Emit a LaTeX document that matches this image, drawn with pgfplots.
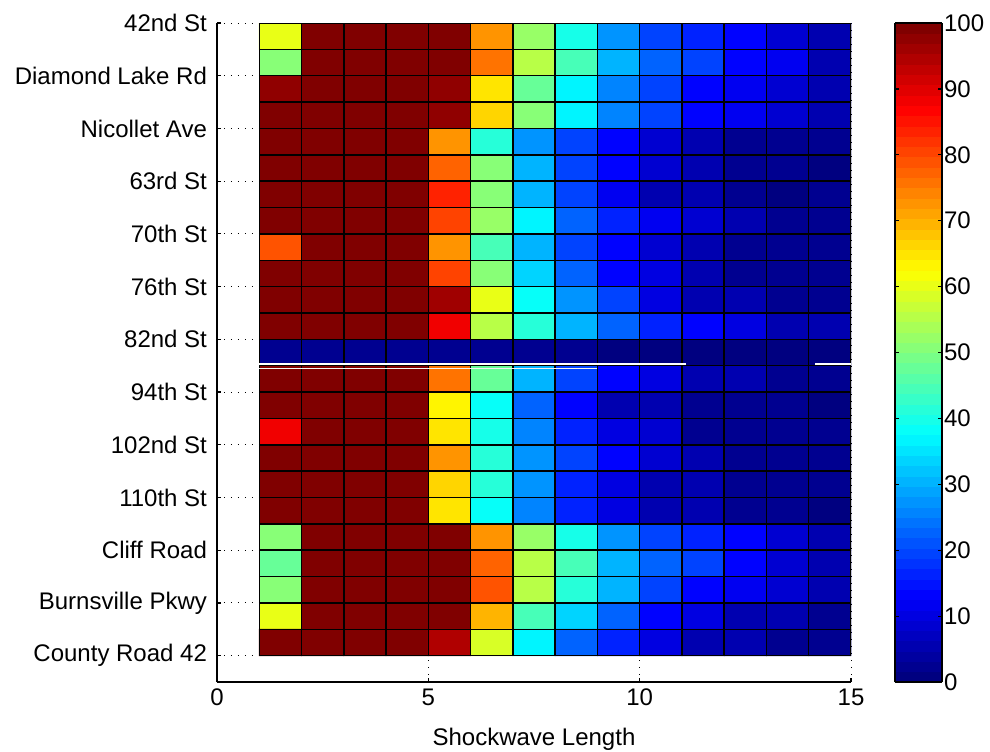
\documentclass[border=0pt]{standalone}
\usepackage{fontspec}
\setmainfont{Liberation Sans}
\usepackage{pgfplots}
\pgfplotsset{compat=1.18}
\pgfplotsset{colormap/jet}
\pgfplotsset{colormap={jetsf}{samples of colormap=(64 of jet)}}
\begin{document}
\begin{tikzpicture}
\useasboundingbox (-108.5pt,-34.5pt) rectangle (386.5pt,341pt);
\begin{axis}[
  at={(0pt,0pt)}, anchor=south west,
  scale only axis, width=317pt, height=329.5pt,
  xmin=0, xmax=15, ymin=1, ymax=26,
  y dir=reverse,
  axis x line*=bottom, axis y line*=left,
  axis line style={black, line width=0.6pt},
  xtick={0,5,10,15},
  ytick={1,3,...,25},
  yticklabels={42nd St, Diamond Lake Rd, Nicollet Ave, 63rd St, 70th St, 76th St, 82nd St, 94th St, 102nd St, 110th St, Cliff Road, Burnsville Pkwy, County Road 42},
  tick align=inside, major tick length=2pt,
  tick style={black, line width=0.6pt},
  grid=major, grid style={black, line width=0.5pt, dash pattern=on 0.6pt off 2.9pt},
  tick label style={font=\fontsize{12}{14}\selectfont},
  yticklabel style={xshift=-1.5pt},
  label style={font=\fontsize{12}{14}\selectfont},
  /pgf/number format/assume math mode=true,
  xlabel={Shockwave Length},
  xlabel style={yshift=-4pt},
  colormap name=jetsf,
  colormap access=piecewise constant,
  point meta min=0, point meta max=100,
  colorbar sampled,
  colorbar style={
    scale only axis,
    at={(parent axis.north east)}, anchor=north west, xshift=13.5pt,
    width=23.5pt, height=329.5pt,
    samples=65,
    ytick={0,10,...,100},
    tick align=inside, major tick length=2pt,
    ytick pos=both, yticklabel pos=right,
    yticklabel style={font=\fontsize{12}{14}\selectfont, xshift=-2.5pt},
    /pgf/number format/assume math mode=true,
    axis line style={black, line width=0.6pt},
    tick style={black, line width=0.6pt},
  },
]
\addplot[matrix plot*, mesh/cols=14, point meta=explicit] coordinates {
(1.5,1.5)[60] (2.5,1.5)[100] (3.5,1.5)[100] (4.5,1.5)[100] (5.5,1.5)[100] (6.5,1.5)[72] (7.5,1.5)[53] (8.5,1.5)[40] (9.5,1.5)[28] (10.5,1.5)[20] (11.5,1.5)[16] (12.5,1.5)[12.5] (13.5,1.5)[8] (14.5,1.5)[6]
(1.5,2.5)[50] (2.5,2.5)[100] (3.5,2.5)[100] (4.5,2.5)[100] (5.5,2.5)[100] (6.5,2.5)[76] (7.5,2.5)[56] (8.5,2.5)[44] (9.5,2.5)[31] (10.5,2.5)[23] (11.5,2.5)[19] (12.5,2.5)[14] (13.5,2.5)[11] (14.5,2.5)[6]
(1.5,3.5)[97] (2.5,3.5)[100] (3.5,3.5)[100] (4.5,3.5)[100] (5.5,3.5)[97] (6.5,3.5)[65] (7.5,3.5)[48] (8.5,3.5)[36] (9.5,3.5)[25] (10.5,3.5)[19] (11.5,3.5)[14] (12.5,3.5)[11] (13.5,3.5)[8] (14.5,3.5)[5]
(1.5,4.5)[100] (2.5,4.5)[100] (3.5,4.5)[100] (4.5,4.5)[100] (5.5,4.5)[97] (6.5,4.5)[67] (7.5,4.5)[50] (8.5,4.5)[36] (9.5,4.5)[25] (10.5,4.5)[19] (11.5,4.5)[12.5] (12.5,4.5)[11] (13.5,4.5)[8] (14.5,4.5)[5]
(1.5,5.5)[100] (2.5,5.5)[100] (3.5,5.5)[100] (4.5,5.5)[100] (5.5,5.5)[72] (6.5,5.5)[42] (7.5,5.5)[28] (8.5,5.5)[19] (9.5,5.5)[12.5] (10.5,5.5)[8] (11.5,5.5)[5] (12.5,5.5)[3] (13.5,5.5)[2] (14.5,5.5)[3]
(1.5,6.5)[100] (2.5,6.5)[100] (3.5,6.5)[100] (4.5,6.5)[100] (5.5,6.5)[78] (6.5,6.5)[50] (7.5,6.5)[31] (8.5,6.5)[20] (9.5,6.5)[12.5] (10.5,6.5)[8] (11.5,6.5)[5] (12.5,6.5)[2] (13.5,6.5)[2] (14.5,6.5)[0.5]
(1.5,7.5)[100] (2.5,7.5)[100] (3.5,7.5)[100] (4.5,7.5)[100] (5.5,7.5)[83] (6.5,7.5)[50] (7.5,7.5)[31] (8.5,7.5)[19] (9.5,7.5)[11] (10.5,7.5)[6] (11.5,7.5)[5] (12.5,7.5)[2] (13.5,7.5)[1] (14.5,7.5)[2]
(1.5,8.5)[100] (2.5,8.5)[100] (3.5,8.5)[100] (4.5,8.5)[100] (5.5,8.5)[81] (6.5,8.5)[53] (7.5,8.5)[36] (8.5,8.5)[23] (9.5,8.5)[17] (10.5,8.5)[11] (11.5,8.5)[8] (12.5,8.5)[6] (13.5,8.5)[3] (14.5,8.5)[3]
(1.5,9.5)[79] (2.5,9.5)[100] (3.5,9.5)[100] (4.5,9.5)[100] (5.5,9.5)[72] (6.5,9.5)[45] (7.5,9.5)[30] (8.5,9.5)[20] (9.5,9.5)[12.5] (10.5,9.5)[8] (11.5,9.5)[5.5] (12.5,9.5)[3] (13.5,9.5)[2] (14.5,9.5)[2]
(1.5,10.5)[100] (2.5,10.5)[100] (3.5,10.5)[100] (4.5,10.5)[100] (5.5,10.5)[81] (6.5,10.5)[50] (7.5,10.5)[34] (8.5,10.5)[22] (9.5,10.5)[12.5] (10.5,10.5)[9.5] (11.5,10.5)[6] (12.5,10.5)[3] (13.5,10.5)[3] (14.5,10.5)[2]
(1.5,11.5)[100] (2.5,11.5)[100] (3.5,11.5)[100] (4.5,11.5)[100] (5.5,11.5)[96] (6.5,11.5)[60] (7.5,11.5)[39] (8.5,11.5)[27] (9.5,11.5)[19] (10.5,11.5)[9.5] (11.5,11.5)[6] (12.5,11.5)[5] (13.5,11.5)[2] (14.5,11.5)[3]
(1.5,12.5)[100] (2.5,12.5)[100] (3.5,12.5)[100] (4.5,12.5)[100] (5.5,12.5)[88] (6.5,12.5)[56] (7.5,12.5)[41] (8.5,12.5)[31] (9.5,12.5)[23] (10.5,12.5)[16] (11.5,12.5)[12.5] (12.5,12.5)[9.5] (13.5,12.5)[6] (14.5,12.5)[5]
(1.5,13.5)[2] (2.5,13.5)[2] (3.5,13.5)[2] (4.5,13.5)[2] (5.5,13.5)[2] (6.5,13.5)[2] (7.5,13.5)[2] (8.5,13.5)[2] (9.5,13.5)[1.5] (10.5,13.5)[1] (11.5,13.5)[1] (12.5,13.5)[1] (13.5,13.5)[1.5] (14.5,13.5)[1.5]
(1.5,14.5)[100] (2.5,14.5)[100] (3.5,14.5)[100] (4.5,14.5)[100] (5.5,14.5)[75] (6.5,14.5)[47] (7.5,14.5)[31] (8.5,14.5)[19] (9.5,14.5)[12.5] (10.5,14.5)[9.5] (11.5,14.5)[6] (12.5,14.5)[5] (13.5,14.5)[3] (14.5,14.5)[3]
(1.5,15.5)[100] (2.5,15.5)[100] (3.5,15.5)[100] (4.5,15.5)[100] (5.5,15.5)[64] (6.5,15.5)[37.5] (7.5,15.5)[23] (8.5,15.5)[12.5] (9.5,15.5)[6] (10.5,15.5)[5] (11.5,15.5)[3] (12.5,15.5)[2] (13.5,15.5)[3] (14.5,15.5)[0.5]
(1.5,16.5)[89] (2.5,16.5)[100] (3.5,16.5)[100] (4.5,16.5)[100] (5.5,16.5)[65] (6.5,16.5)[40] (7.5,16.5)[25] (8.5,16.5)[16] (9.5,16.5)[9.5] (10.5,16.5)[8] (11.5,16.5)[3] (12.5,16.5)[2] (13.5,16.5)[2] (14.5,16.5)[3]
(1.5,17.5)[99] (2.5,17.5)[100] (3.5,17.5)[100] (4.5,17.5)[100] (5.5,17.5)[72] (6.5,17.5)[42] (7.5,17.5)[27] (8.5,17.5)[19] (9.5,17.5)[12.5] (10.5,17.5)[8] (11.5,17.5)[5] (12.5,17.5)[3] (13.5,17.5)[3] (14.5,17.5)[2]
(1.5,18.5)[100] (2.5,18.5)[100] (3.5,18.5)[100] (4.5,18.5)[100] (5.5,18.5)[67] (6.5,18.5)[41] (7.5,18.5)[27] (8.5,18.5)[17] (9.5,18.5)[9.5] (10.5,18.5)[6] (11.5,18.5)[5] (12.5,18.5)[3] (13.5,18.5)[3] (14.5,18.5)[2]
(1.5,19.5)[100] (2.5,19.5)[100] (3.5,19.5)[100] (4.5,19.5)[100] (5.5,19.5)[65] (6.5,19.5)[39] (7.5,19.5)[25] (8.5,19.5)[16] (9.5,19.5)[9.5] (10.5,19.5)[6] (11.5,19.5)[5] (12.5,19.5)[3] (13.5,19.5)[3] (14.5,19.5)[1.5]
(1.5,20.5)[50] (2.5,20.5)[100] (3.5,20.5)[100] (4.5,20.5)[100] (5.5,20.5)[100] (6.5,20.5)[73] (7.5,20.5)[53] (8.5,20.5)[40] (9.5,20.5)[27] (10.5,20.5)[20] (11.5,20.5)[16] (12.5,20.5)[12.5] (13.5,20.5)[8] (14.5,20.5)[6]
(1.5,21.5)[47] (2.5,21.5)[100] (3.5,21.5)[100] (4.5,21.5)[100] (5.5,21.5)[100] (6.5,21.5)[78] (7.5,21.5)[56] (8.5,21.5)[44] (9.5,21.5)[30] (10.5,21.5)[22] (11.5,21.5)[19] (12.5,21.5)[12.5] (13.5,21.5)[8] (14.5,21.5)[6]
(1.5,22.5)[50] (2.5,22.5)[100] (3.5,22.5)[100] (4.5,22.5)[100] (5.5,22.5)[100] (6.5,22.5)[79.5] (7.5,22.5)[55] (8.5,22.5)[41] (9.5,22.5)[30] (10.5,22.5)[20] (11.5,22.5)[14] (12.5,22.5)[11] (13.5,22.5)[8] (14.5,22.5)[6]
(1.5,23.5)[60] (2.5,23.5)[100] (3.5,23.5)[100] (4.5,23.5)[100] (5.5,23.5)[100] (6.5,23.5)[69] (7.5,23.5)[45] (8.5,23.5)[33] (9.5,23.5)[22] (10.5,23.5)[14] (11.5,23.5)[9.5] (12.5,23.5)[6] (13.5,23.5)[5] (14.5,23.5)[3]
(1.5,24.5)[100] (2.5,24.5)[100] (3.5,24.5)[100] (4.5,24.5)[100] (5.5,24.5)[94] (6.5,24.5)[58] (7.5,24.5)[36] (8.5,24.5)[23] (9.5,24.5)[16] (10.5,24.5)[9.5] (11.5,24.5)[6] (12.5,24.5)[5] (13.5,24.5)[2] (14.5,24.5)[3]
};
% cell edges
\addplot[black, line width=0.75pt, unbounded coords=jump, forget plot] coordinates {
(1,1) (1,25) (nan,nan) (2,1) (2,25) (nan,nan) (3,1) (3,25) (nan,nan) (4,1) (4,25) (nan,nan)
(5,1) (5,25) (nan,nan) (6,1) (6,25) (nan,nan) (7,1) (7,25) (nan,nan) (8,1) (8,25) (nan,nan)
(9,1) (9,25) (nan,nan) (10,1) (10,25) (nan,nan) (11,1) (11,25) (nan,nan) (12,1) (12,25) (nan,nan)
(13,1) (13,25) (nan,nan) (14,1) (14,25) (nan,nan) (15,1) (15,25)
};
\addplot[black, line width=0.75pt, unbounded coords=jump, forget plot] coordinates {
(1,1) (15,1) (nan,nan) (1,2) (15,2) (nan,nan) (1,3) (15,3) (nan,nan) (1,4) (15,4) (nan,nan)
(1,5) (15,5) (nan,nan) (1,6) (15,6) (nan,nan) (1,7) (15,7) (nan,nan) (1,8) (15,8) (nan,nan)
(1,9) (15,9) (nan,nan) (1,10) (15,10) (nan,nan) (1,11) (15,11) (nan,nan) (1,12) (15,12) (nan,nan)
(1,13) (15,13) (nan,nan) (1,14) (15,14) (nan,nan) (1,15) (15,15) (nan,nan) (1,16) (15,16) (nan,nan)
(1,17) (15,17) (nan,nan) (1,18) (15,18) (nan,nan) (1,19) (15,19) (nan,nan) (1,20) (15,20) (nan,nan)
(1,21) (15,21) (nan,nan) (1,22) (15,22) (nan,nan) (1,23) (15,23) (nan,nan) (1,24) (15,24) (nan,nan)
(1,25) (15,25)
};
\addplot[white, line width=0.8pt, unbounded coords=jump, forget plot] coordinates {(1,13.93) (11.1,13.93) (nan,nan) (14.15,13.93) (15,13.93)};
\addplot[white!90!gray, line width=0.8pt, forget plot] coordinates {(1,14.1) (9,14.1)};
\end{axis}
\end{tikzpicture}
\end{document}
